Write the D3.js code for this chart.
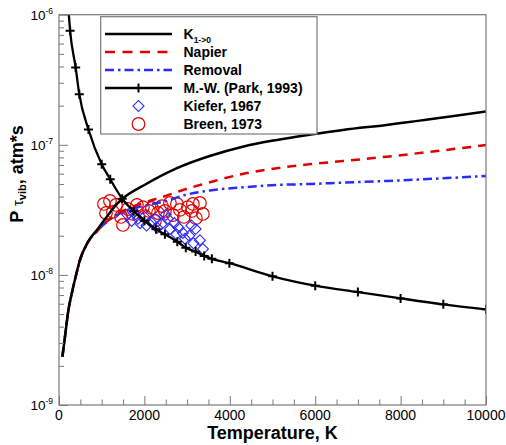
<!DOCTYPE html>
<html>
<head>
<meta charset="utf-8">
<script src="https://cdn.jsdelivr.net/npm/d3@7"></script>
<style>
  html, body { margin: 0; padding: 0; background: #fff; }
  svg { display: block; font-family: "Liberation Sans", Arial, sans-serif; }
</style>
</head>
<body>
<svg id="chart" width="506" height="445"></svg>
<script>
// Vibrational relaxation time (P·tau) versus temperature

// K(1->0) model curve
const kTemps = [80, 140, 220, 300, 390, 490, 670, 920, 1150, 1300, 1500, 2000, 2750, 3530, 4300, 5100, 5900, 6650, 7670, 10000];
const kVals  = [2.35e-9, 3.35e-9, 5.35e-9, 7.22e-9, 9.68e-9, 1.30e-8, 1.78e-8, 2.28e-8, 2.89e-8, 3.35e-8, 3.88e-8, 4.91e-8, 6.59e-8, 8.20e-8, 9.67e-8, 1.09e-7, 1.20e-7, 1.30e-7, 1.42e-7, 1.80e-7];

// Napier model curve
const napierTemps = [80, 140, 220, 300, 390, 490, 670, 920, 1150, 1500, 2000, 2500, 3000, 3530, 4300, 5100, 5900, 6650, 7670, 10000];
const napierVals  = [2.35e-9, 3.35e-9, 5.35e-9, 7.22e-9, 9.68e-9, 1.30e-8, 1.76e-8, 2.22e-8, 2.62e-8, 3.1e-8, 3.6e-8, 4.05e-8, 4.6e-8, 5.15e-8, 5.97e-8, 6.6e-8, 7.11e-8, 7.5e-8, 8.1e-8, 9.95e-8];

// Removal model curve
const removalTemps = [80, 140, 220, 300, 390, 490, 670, 920, 1150, 1500, 2000, 2500, 3000, 3530, 4300, 5100, 5900, 6650, 7670, 10000];
const removalVals  = [2.35e-9, 3.35e-9, 5.35e-9, 7.22e-9, 9.68e-9, 1.30e-8, 1.76e-8, 2.22e-8, 2.6e-8, 3.05e-8, 3.4e-8, 3.7e-8, 4.15e-8, 4.45e-8, 4.71e-8, 4.91e-8, 5.0e-8, 5.12e-8, 5.27e-8, 5.76e-8];

// Millikan-White with Park correction (line with + symbols)
const mwTemps = [220, 260, 390, 475, 690, 1000, 1200, 1480, 1750, 2000, 2270, 2480, 2770, 2970, 3200, 3400, 3580, 3990, 5000, 6000, 7000, 8000, 9000, 10000];
const mwVals  = [1.1e-6, 7.53e-7, 3.92e-7, 2.45e-7, 1.31e-7, 7.1e-8, 5.43e-8, 3.85e-8, 3.09e-8, 2.61e-8, 2.24e-8, 2.05e-8, 1.80e-8, 1.62e-8, 1.51e-8, 1.40e-8, 1.33e-8, 1.23e-8, 9.75e-9, 8.26e-9, 7.38e-9, 6.60e-9, 5.94e-9, 5.44e-9];
const mwSymbolFrom = 1; // first entry only continues the line past the top edge

// Kiefer, 1967 measurements
const kieferTemps = [1600, 1700, 1750, 1850, 1900, 2000, 2050, 2150, 2250, 2300, 2400, 2500, 2550, 2600, 2700, 2750, 2800, 2900, 2950, 3050, 3100, 3150, 3200, 3300, 3370];
const kieferVals  = [2.9e-8, 2.6e-8, 3.0e-8, 2.7e-8, 2.5e-8, 2.8e-8, 2.4e-8, 2.55e-8, 2.7e-8, 2.3e-8, 2.45e-8, 2.9e-8, 2.7e-8, 2.25e-8, 2.5e-8, 2.05e-8, 2.3e-8, 2.1e-8, 1.9e-8, 2.0e-8, 2.4e-8, 1.75e-8, 2.25e-8, 1.85e-8, 1.58e-8];

// Breen, 1973 measurements
const breenTemps = [1053, 1194, 1334, 1100, 1264, 1451, 1498, 1615, 1732, 1825, 1966, 2013, 2106, 2177, 2247, 2317, 2411, 2481, 2598, 2668, 2762, 2832, 2925, 3019, 3113, 3136, 3206, 3300, 3370];
const breenVals  = [3.51e-8, 3.70e-8, 3.45e-8, 2.99e-8, 3.05e-8, 2.79e-8, 2.42e-8, 3.21e-8, 2.94e-8, 3.45e-8, 3.32e-8, 2.83e-8, 3.10e-8, 3.27e-8, 2.60e-8, 2.99e-8, 3.38e-8, 3.10e-8, 3.57e-8, 2.88e-8, 3.51e-8, 3.16e-8, 2.79e-8, 3.32e-8, 3.10e-8, 3.51e-8, 2.73e-8, 3.57e-8, 2.94e-8];

// Axis ticks
const xTickLabels = [0, 2000, 4000, 6000, 8000, 10000];
const yTickExponents = [-9, -8, -7, -6];

const legendLabels = ["K", "Napier", "Removal", "M.-W. (Park, 1993)", "Kiefer, 1967", "Breen, 1973"];

const svg = d3.select("#chart");
const plot = { left: 59, right: 486, top: 14.7, bottom: 405 };

const x = d3.scaleLinear().domain([0, 10000]).range([plot.left, plot.right]);
const y = d3.scaleLog().domain([1e-9, 1e-6]).range([plot.bottom, plot.top]);

const RED = "#dd0000", BLUE = "#2b2bff", GREY = "#7a7a7a";

svg.append("defs").append("clipPath").attr("id", "clip")
  .append("rect").attr("x", plot.left).attr("y", plot.top)
  .attr("width", plot.right - plot.left).attr("height", plot.bottom - plot.top);

const zip = (ts, vs) => ts.map((t, i) => [t, vs[i]]);
const lineGen = d3.line().x(d => x(d[0])).y(d => y(d[1])).curve(d3.curveMonotoneX);

const g = svg.append("g").attr("clip-path", "url(#clip)");

// measured points
g.selectAll("circle.breen").data(zip(breenTemps, breenVals)).join("circle")
  .attr("class", "breen")
  .attr("cx", d => x(d[0])).attr("cy", d => y(d[1])).attr("r", 6.3)
  .attr("fill", "none").attr("stroke", RED).attr("stroke-width", 1.2);

const diamond = d3.symbol().type(d3.symbolSquare).size(60);
g.selectAll("path.kiefer").data(zip(kieferTemps, kieferVals)).join("path")
  .attr("class", "kiefer")
  .attr("d", diamond)
  .attr("transform", d => `translate(${x(d[0])},${y(d[1])}) rotate(45)`)
  .attr("fill", "none").attr("stroke", BLUE).attr("stroke-width", 1.1);

// model curves
g.append("path").datum(zip(removalTemps, removalVals)).attr("d", lineGen)
  .attr("fill", "none").attr("stroke", BLUE).attr("stroke-width", 2.5)
  .attr("stroke-dasharray", "9,4,2.5,4");
g.append("path").datum(zip(napierTemps, napierVals)).attr("d", lineGen)
  .attr("fill", "none").attr("stroke", RED).attr("stroke-width", 2.5)
  .attr("stroke-dasharray", "9,7");
g.append("path").datum(zip(kTemps, kVals)).attr("d", lineGen)
  .attr("fill", "none").attr("stroke", "#000").attr("stroke-width", 2.5);
g.append("path").datum(zip(mwTemps, mwVals)).attr("d", lineGen)
  .attr("fill", "none").attr("stroke", "#000").attr("stroke-width", 2.3);

g.selectAll("g.mw").data(zip(mwTemps, mwVals).slice(mwSymbolFrom)).join("g")
  .attr("class", "mw")
  .attr("transform", d => `translate(${x(d[0])},${y(d[1])})`)
  .each(function () {
    const s = d3.select(this);
    s.append("line").attr("x1", -4.5).attr("x2", 4.5).attr("stroke", "#000").attr("stroke-width", 2);
    s.append("line").attr("y1", -4.5).attr("y2", 4.5).attr("stroke", "#000").attr("stroke-width", 2);
  });

// ticks (inside the frame)
const xMinor = d3.range(0, 10001, 500);
const xAxis = d3.axisBottom(x).tickValues(xMinor)
  .tickSize(-5.5).tickFormat(() => "");
const xg = svg.append("g").attr("transform", `translate(0,${plot.bottom})`).call(xAxis);
xg.select(".domain").remove();
xg.selectAll(".tick line").attr("stroke", GREY)
  .attr("y2", d => (d % 2000 === 0 ? -9 : -5.5));

const yMinor = [];
for (const e of yTickExponents) for (let k = 1; k <= 9; k++) { const v = k * Math.pow(10, e); if (v <= 1e-6 * 1.0001) yMinor.push(v); }
const yAxis = d3.axisLeft(y).tickValues(yMinor).tickSize(-5).tickFormat(() => "");
const yg = svg.append("g").attr("transform", `translate(${plot.left},0)`).call(yAxis);
yg.select(".domain").remove();
yg.selectAll(".tick line").attr("stroke", GREY)
  .attr("x2", d => (Math.abs(Math.log10(d) - Math.round(Math.log10(d))) < 1e-6 ? 9 : 5));

// frame
svg.append("rect").attr("x", plot.left).attr("y", plot.top)
  .attr("width", plot.right - plot.left).attr("height", plot.bottom - plot.top)
  .attr("fill", "none").attr("stroke", GREY).attr("stroke-width", 1.2);

// tick labels
svg.append("g").selectAll("text").data(xTickLabels).join("text")
  .attr("x", d => x(d)).attr("y", 419.5)
  .attr("text-anchor", "middle").attr("font-size", 14).attr("fill", "#000")
  .text(d => d);

const yl = svg.append("g").selectAll("text").data(yTickExponents).join("text")
  .attr("x", 53).attr("y", e => y(Math.pow(10, e)) + 5)
  .attr("text-anchor", "end").attr("font-size", 13.5).attr("fill", "#000");
yl.append("tspan").text("10");
yl.append("tspan").attr("font-size", 8.5).attr("dy", -6).text(e => "-" + Math.abs(e));

// axis titles
svg.append("text").attr("x", (plot.left + plot.right) / 2).attr("y", 439)
  .attr("text-anchor", "middle").attr("font-size", 18).attr("font-weight", "bold")
  .text("Temperature, K");

const yt = svg.append("text").attr("transform", "translate(23,174) rotate(-90)")
  .attr("text-anchor", "middle").attr("font-size", 18).attr("font-weight", "bold");
yt.append("tspan").text("P ");
yt.append("tspan").attr("font-size", 15).attr("font-weight", "normal").text("τ");
yt.append("tspan").attr("font-size", 11).attr("dy", 3).text("vib");
yt.append("tspan").attr("dy", -3).text(", atm*s");

// legend
const lg = svg.append("g");
lg.append("rect").attr("x", 100.7).attr("y", 16.7).attr("width", 216.3).attr("height", 117.3)
  .attr("fill", "#fff").attr("stroke", GREY).attr("stroke-width", 1.2);

const rowY = i => 34 + i * 18;
const sx1 = 105, sx2 = 172, sxm = (sx1 + sx2) / 2;
lg.append("line").attr("x1", sx1).attr("x2", sx2).attr("y1", rowY(0)).attr("y2", rowY(0))
  .attr("stroke", "#000").attr("stroke-width", 2.5);
lg.append("line").attr("x1", sx1).attr("x2", sx2).attr("y1", rowY(1)).attr("y2", rowY(1))
  .attr("stroke", RED).attr("stroke-width", 2.5).attr("stroke-dasharray", "10,7.5");
lg.append("line").attr("x1", sx1).attr("x2", sx2).attr("y1", rowY(2)).attr("y2", rowY(2))
  .attr("stroke", BLUE).attr("stroke-width", 2.5).attr("stroke-dasharray", "9,4,2.5,4");
lg.append("line").attr("x1", sx1).attr("x2", sx2).attr("y1", rowY(3)).attr("y2", rowY(3))
  .attr("stroke", "#000").attr("stroke-width", 2.3);
lg.append("line").attr("x1", sxm).attr("x2", sxm).attr("y1", rowY(3) - 4.5).attr("y2", rowY(3) + 4.5)
  .attr("stroke", "#000").attr("stroke-width", 2);
lg.append("path").attr("d", diamond).attr("transform", `translate(${sxm},${rowY(4)}) rotate(45)`)
  .attr("fill", "none").attr("stroke", BLUE).attr("stroke-width", 1.1);
lg.append("circle").attr("cx", sxm).attr("cy", rowY(5)).attr("r", 6.3)
  .attr("fill", "none").attr("stroke", RED).attr("stroke-width", 1.2);

const lt = lg.selectAll("text").data(legendLabels).join("text")
  .attr("x", 183.5).attr("y", (d, i) => rowY(i) + 5)
  .attr("font-size", 14).attr("font-weight", "bold").attr("fill", "#000");
lt.append("tspan").text(d => d);
lt.filter((d, i) => i === 0).append("tspan").attr("font-size", 8.5).attr("dy", 4).text("1->0");
</script>
</body>
</html>
